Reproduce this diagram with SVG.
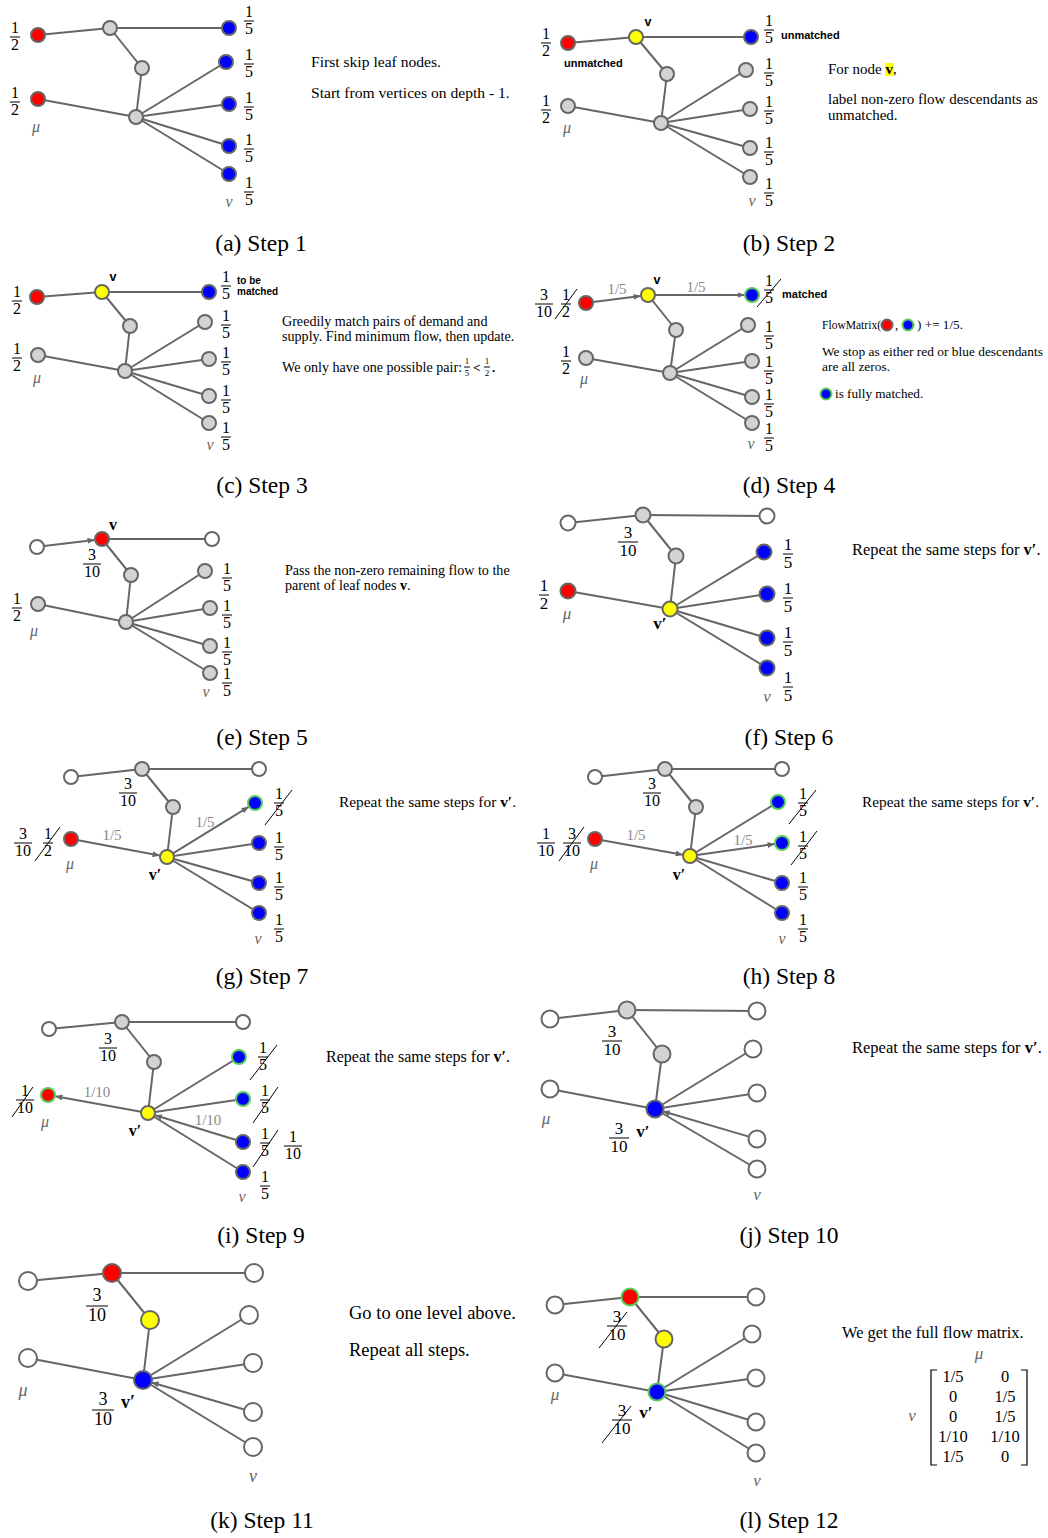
<svg xmlns="http://www.w3.org/2000/svg" width="1048" height="1538" viewBox="0 0 1048 1538">
<defs>
<marker id="ah" markerWidth="7" markerHeight="6" refX="7" refY="3" orient="auto" markerUnits="userSpaceOnUse"><path d="M0,0 L7,3 L0,6 z" fill="#666"/></marker>
</defs>
<style>
.e{stroke:#666;stroke-width:2;fill:none}
.ea{stroke:#666;stroke-width:2;fill:none;marker-end:url(#ah)}
circle{stroke:#666;stroke-width:2}
.g{fill:#d3d3d3}.r{fill:#f00}.b{fill:#00f}.y{fill:#ff0}.w{fill:#fff}
circle.gs{stroke:#5c5}
.fr text{font-family:"Liberation Serif",serif;font-size:16px;text-anchor:middle;fill:#000}
.fr2 text{font-size:17px}
.fr3 text{font-size:18px}
.frs text{font-size:9px}
.fr line{stroke:#000;stroke-width:1}
.sl{stroke:#000;stroke-width:1}
.t{font-family:"Liberation Serif",serif;font-size:15px;fill:#000}
.cap{font-family:"Liberation Serif",serif;font-size:23.5px;text-anchor:middle;fill:#000}
.lb{font-family:"Liberation Sans",sans-serif;font-weight:bold;font-size:11px;fill:#000}
.m{font-family:"Liberation Serif",serif;font-style:italic;font-size:16px;fill:#666;text-anchor:middle}
.fl{font-family:"Liberation Serif",serif;font-size:15px;fill:#888;text-anchor:middle}
.vp{font-family:"Liberation Serif",serif;font-weight:bold;font-size:16px;text-anchor:middle;fill:#000}
.mx{font-family:"Liberation Serif",serif;font-size:16.5px;text-anchor:middle;fill:#000}
</style>
<rect width="1048" height="1538" fill="#fff"/>

<!-- (a) -->
<g id="panel-a">
<g id="a-connectors">
<line class="e" x1="38" y1="35" x2="110" y2="28"/>
<line class="e" x1="110" y1="28" x2="229" y2="28"/>
<line class="e" x1="110" y1="28" x2="142" y2="68"/>
<line class="e" x1="142" y1="68" x2="136" y2="117"/>
<line class="e" x1="38" y1="99" x2="136" y2="117"/>
<line class="e" x1="136" y1="117" x2="226" y2="62"/>
<line class="e" x1="136" y1="117" x2="229" y2="104"/>
<line class="e" x1="136" y1="117" x2="229" y2="146"/>
<line class="e" x1="136" y1="117" x2="229" y2="174"/>
</g>
<g id="a-n1"><circle class="r" cx="38" cy="35" r="7"/></g>
<g id="a-n2"><circle class="g" cx="110" cy="28" r="7"/></g>
<g id="a-n3"><circle class="b" cx="229" cy="28" r="7"/></g>
<g id="a-n4"><circle class="g" cx="142" cy="68" r="7"/></g>
<g id="a-n5"><circle class="r" cx="38" cy="99" r="7"/></g>
<g id="a-n6"><circle class="g" cx="136" cy="117" r="7"/></g>
<g id="a-n7"><circle class="b" cx="226" cy="62" r="7"/></g>
<g id="a-n8"><circle class="b" cx="229" cy="104" r="7"/></g>
<g id="a-n9"><circle class="b" cx="229" cy="146" r="7"/></g>
<g id="a-n10"><circle class="b" cx="229" cy="174" r="7"/></g>
<g class="fr" transform="translate(15,37)"><text y="-4">1</text><line x1="-5" x2="5"/><text y="13">2</text></g>
<g class="fr" transform="translate(15,102)"><text y="-4">1</text><line x1="-5" x2="5"/><text y="13">2</text></g>
<g class="fr" transform="translate(249,21)"><text y="-4">1</text><line x1="-5" x2="5"/><text y="13">5</text></g>
<g class="fr" transform="translate(249,64)"><text y="-4">1</text><line x1="-5" x2="5"/><text y="13">5</text></g>
<g class="fr" transform="translate(249,107)"><text y="-4">1</text><line x1="-5" x2="5"/><text y="13">5</text></g>
<g class="fr" transform="translate(249,149)"><text y="-4">1</text><line x1="-5" x2="5"/><text y="13">5</text></g>
<g class="fr" transform="translate(249,192)"><text y="-4">1</text><line x1="-5" x2="5"/><text y="13">5</text></g>
<text class="m" x="36" y="132">μ</text>
<text class="m" x="229" y="207">v</text>
<text class="t" x="311" y="67" style="font-size:15.6px">First skip leaf nodes.</text>
<text class="t" x="311" y="98" style="font-size:15.6px">Start from vertices on depth - 1.</text>
<text class="cap" x="261" y="251">(a) Step 1</text>
</g>

<!-- (b) -->
<g id="panel-b">
<g id="b-connectors">
<line class="e" x1="568" y1="43" x2="636" y2="37"/>
<line class="e" x1="636" y1="37" x2="751" y2="37"/>
<line class="e" x1="636" y1="37" x2="667" y2="74"/>
<line class="e" x1="667" y1="74" x2="661" y2="123"/>
<line class="e" x1="568" y1="106" x2="661" y2="123"/>
<line class="e" x1="661" y1="123" x2="746" y2="70"/>
<line class="e" x1="661" y1="123" x2="750" y2="109"/>
<line class="e" x1="661" y1="123" x2="750" y2="148"/>
<line class="e" x1="661" y1="123" x2="750" y2="177"/>
</g>
<g id="b-n1"><circle class="r" cx="568" cy="43" r="7"/></g>
<g id="b-n2"><circle class="y" cx="636" cy="37" r="7"/></g>
<g id="b-n3"><circle class="b" cx="751" cy="37" r="7"/></g>
<g id="b-n4"><circle class="g" cx="667" cy="74" r="7"/></g>
<g id="b-n5"><circle class="g" cx="568" cy="106" r="7"/></g>
<g id="b-n6"><circle class="g" cx="661" cy="123" r="7"/></g>
<g id="b-n7"><circle class="g" cx="746" cy="70" r="7"/></g>
<g id="b-n8"><circle class="g" cx="750" cy="109" r="7"/></g>
<g id="b-n9"><circle class="g" cx="750" cy="148" r="7"/></g>
<g id="b-n10"><circle class="g" cx="750" cy="177" r="7"/></g>
<g class="fr" transform="translate(546,43)"><text y="-4">1</text><line x1="-5" x2="5"/><text y="13">2</text></g>
<g class="fr" transform="translate(546,110)"><text y="-4">1</text><line x1="-5" x2="5"/><text y="13">2</text></g>
<g class="fr" transform="translate(769,30)"><text y="-4">1</text><line x1="-5" x2="5"/><text y="13">5</text></g>
<g class="fr" transform="translate(769,73)"><text y="-4">1</text><line x1="-5" x2="5"/><text y="13">5</text></g>
<g class="fr" transform="translate(769,111)"><text y="-4">1</text><line x1="-5" x2="5"/><text y="13">5</text></g>
<g class="fr" transform="translate(769,152)"><text y="-4">1</text><line x1="-5" x2="5"/><text y="13">5</text></g>
<g class="fr" transform="translate(769,193)"><text y="-4">1</text><line x1="-5" x2="5"/><text y="13">5</text></g>
<text class="lb" x="648" y="26" text-anchor="middle" style="font-size:12.5px">v</text>
<text class="lb" x="781" y="39">unmatched</text>
<text class="lb" x="564" y="67">unmatched</text>
<text class="m" x="567" y="133">μ</text>
<text class="m" x="752" y="206">v</text>
<rect x="885" y="63" width="9" height="13" fill="#ff0"/>
<text class="t" x="828" y="74">For node <tspan font-weight="bold">v</tspan>,</text>
<text class="t" x="828" y="104">label non-zero flow descendants as</text>
<text class="t" x="828" y="120">unmatched.</text>
<text class="cap" x="789" y="251">(b) Step 2</text>
</g>

<!-- (c) -->
<g id="panel-c">
<g id="c-connectors">
<line class="e" x1="37" y1="297" x2="102" y2="292"/>
<line class="e" x1="102" y1="292" x2="209" y2="292"/>
<line class="e" x1="102" y1="292" x2="130" y2="326"/>
<line class="e" x1="130" y1="326" x2="125" y2="371"/>
<line class="e" x1="38" y1="355" x2="125" y2="371"/>
<line class="e" x1="125" y1="371" x2="205" y2="322"/>
<line class="e" x1="125" y1="371" x2="209" y2="359"/>
<line class="e" x1="125" y1="371" x2="209" y2="396"/>
<line class="e" x1="125" y1="371" x2="209" y2="423"/>
</g>
<g id="c-n1"><circle class="r" cx="37" cy="297" r="7"/></g>
<g id="c-n2"><circle class="y" cx="102" cy="292" r="7"/></g>
<g id="c-n3"><circle class="b" cx="209" cy="292" r="7"/></g>
<g id="c-n4"><circle class="g" cx="130" cy="326" r="7"/></g>
<g id="c-n5"><circle class="g" cx="38" cy="355" r="7"/></g>
<g id="c-n6"><circle class="g" cx="125" cy="371" r="7"/></g>
<g id="c-n7"><circle class="g" cx="205" cy="322" r="7"/></g>
<g id="c-n8"><circle class="g" cx="209" cy="359" r="7"/></g>
<g id="c-n9"><circle class="g" cx="209" cy="396" r="7"/></g>
<g id="c-n10"><circle class="g" cx="209" cy="423" r="7"/></g>
<g class="fr" transform="translate(17,301)"><text y="-4">1</text><line x1="-5" x2="5"/><text y="13">2</text></g>
<g class="fr" transform="translate(17,358)"><text y="-4">1</text><line x1="-5" x2="5"/><text y="13">2</text></g>
<g class="fr" transform="translate(226,286)"><text y="-4">1</text><line x1="-5" x2="5"/><text y="13">5</text></g>
<g class="fr" transform="translate(226,325)"><text y="-4">1</text><line x1="-5" x2="5"/><text y="13">5</text></g>
<g class="fr" transform="translate(226,362)"><text y="-4">1</text><line x1="-5" x2="5"/><text y="13">5</text></g>
<g class="fr" transform="translate(226,400)"><text y="-4">1</text><line x1="-5" x2="5"/><text y="13">5</text></g>
<g class="fr" transform="translate(226,437)"><text y="-4">1</text><line x1="-5" x2="5"/><text y="13">5</text></g>
<text class="lb" x="113" y="281" text-anchor="middle" style="font-size:12.5px">v</text>
<text class="lb" x="237" y="284" style="font-size:10px">to be</text>
<text class="lb" x="237" y="295" style="font-size:10px">matched</text>
<text class="m" x="37" y="383">μ</text>
<text class="m" x="210" y="450">v</text>
<text class="t" x="282" y="326" style="font-size:14.1px">Greedily match pairs of demand and</text>
<text class="t" x="282" y="341" style="font-size:14.1px">supply. Find minimum flow, then update.</text>
<text class="t" x="282" y="372" style="font-size:14.1px">We only have one possible pair:</text>
<g class="fr frs" transform="translate(467,367)"><text y="-3">1</text><line x1="-3" x2="3"/><text y="9">5</text></g>
<text class="t" x="473" y="372" style="font-size:13px;font-weight:bold">&lt;</text>
<g class="fr frs" transform="translate(487,367)"><text y="-3">1</text><line x1="-3" x2="3"/><text y="9">2</text></g>
<text class="t" x="492" y="372" style="font-size:13px;font-weight:bold">.</text>
<text class="cap" x="262" y="493">(c) Step 3</text>
</g>

<!-- (d) -->
<g id="panel-d">
<g id="d-connectors">
<line class="ea" x1="593" y1="302" x2="640.6" y2="296"/>
<line class="ea" x1="655" y1="295" x2="744.5" y2="295"/>
<line class="e" x1="648" y1="295" x2="676" y2="330"/>
<line class="e" x1="676" y1="330" x2="670" y2="373"/>
<line class="e" x1="586" y1="358" x2="670" y2="373"/>
<line class="e" x1="670" y1="373" x2="748" y2="325"/>
<line class="e" x1="670" y1="373" x2="752" y2="361"/>
<line class="e" x1="670" y1="373" x2="752" y2="397"/>
<line class="e" x1="670" y1="373" x2="752" y2="423"/>
</g>
<g id="d-n1"><circle class="r" cx="586" cy="303" r="7"/></g>
<g id="d-n2"><circle class="y" cx="648" cy="295" r="7"/></g>
<g id="d-n3"><circle class="b gs" cx="752" cy="295" r="7"/></g>
<g id="d-n4"><circle class="g" cx="676" cy="330" r="7"/></g>
<g id="d-n5"><circle class="g" cx="586" cy="358" r="7"/></g>
<g id="d-n6"><circle class="g" cx="670" cy="373" r="7"/></g>
<g id="d-n7"><circle class="g" cx="748" cy="325" r="7"/></g>
<g id="d-n8"><circle class="g" cx="752" cy="361" r="7"/></g>
<g id="d-n9"><circle class="g" cx="752" cy="397" r="7"/></g>
<g id="d-n10"><circle class="g" cx="752" cy="423" r="7"/></g>
<text class="fl" x="617" y="294">1/5</text>
<text class="fl" x="696" y="292">1/5</text>
<text class="lb" x="657" y="284" text-anchor="middle" style="font-size:12.5px">v</text>
<text class="lb" x="782" y="298">matched</text>
<g class="fr" transform="translate(544,304)"><text y="-4">3</text><line x1="-9" x2="9"/><text y="13">10</text></g>
<g class="fr" transform="translate(566,304)"><text y="-4">1</text><line x1="-5" x2="5"/><text y="13">2</text></g>
<line class="sl" x1="555" y1="319" x2="577" y2="289"/>
<g class="fr" transform="translate(566,361)"><text y="-4">1</text><line x1="-5" x2="5"/><text y="13">2</text></g>
<g class="fr" transform="translate(769,290)"><text y="-4">1</text><line x1="-5" x2="5"/><text y="13">5</text></g>
<line class="sl" x1="757" y1="307" x2="781" y2="279"/>
<g class="fr" transform="translate(769,336)"><text y="-4">1</text><line x1="-5" x2="5"/><text y="13">5</text></g>
<g class="fr" transform="translate(769,371)"><text y="-4">1</text><line x1="-5" x2="5"/><text y="13">5</text></g>
<g class="fr" transform="translate(769,404)"><text y="-4">1</text><line x1="-5" x2="5"/><text y="13">5</text></g>
<g class="fr" transform="translate(769,438)"><text y="-4">1</text><line x1="-5" x2="5"/><text y="13">5</text></g>
<text class="m" x="584" y="384">μ</text>
<text class="m" x="751" y="449">v</text>
<text class="t" x="822" y="329" style="font-size:13.2px" textLength="59" lengthAdjust="spacingAndGlyphs">FlowMatrix(</text>
<circle class="r" cx="887" cy="325" r="5.5"/>
<text class="t" x="895" y="329" style="font-size:13.2px">,</text>
<circle class="b gs" cx="908" cy="325" r="5.5"/>
<text class="t" x="917" y="329" style="font-size:13.2px">) += 1/5.</text>
<text class="t" x="822" y="356" style="font-size:13.4px">We stop as either red or blue descendants</text>
<text class="t" x="822" y="371" style="font-size:13.4px">are all zeros.</text>
<circle class="b gs" cx="826" cy="394" r="5.5"/>
<text class="t" x="835" y="398" style="font-size:13.2px">is fully matched.</text>
<text class="cap" x="789" y="493">(d) Step 4</text>
</g>

<!-- (e) -->
<g id="panel-e">
<g id="e-connectors">
<line class="ea" x1="44" y1="546" x2="94.5" y2="540"/>
<line class="e" x1="102" y1="539" x2="212" y2="539"/>
<line class="e" x1="102" y1="539" x2="131" y2="575"/>
<line class="e" x1="131" y1="575" x2="126" y2="622"/>
<line class="e" x1="38" y1="604" x2="126" y2="622"/>
<line class="e" x1="126" y1="622" x2="205" y2="571"/>
<line class="e" x1="126" y1="622" x2="210" y2="608"/>
<line class="e" x1="126" y1="622" x2="210" y2="646"/>
<line class="e" x1="126" y1="622" x2="210" y2="673"/>
</g>
<g id="e-n1"><circle class="w" cx="37" cy="547" r="7"/></g>
<g id="e-n2"><circle class="r" cx="102" cy="539" r="7"/></g>
<g id="e-n3"><circle class="w" cx="212" cy="539" r="7"/></g>
<g id="e-n4"><circle class="g" cx="131" cy="575" r="7"/></g>
<g id="e-n5"><circle class="g" cx="38" cy="604" r="7"/></g>
<g id="e-n6"><circle class="g" cx="126" cy="622" r="7"/></g>
<g id="e-n7"><circle class="g" cx="205" cy="571" r="7"/></g>
<g id="e-n8"><circle class="g" cx="210" cy="608" r="7"/></g>
<g id="e-n9"><circle class="g" cx="210" cy="646" r="7"/></g>
<g id="e-n10"><circle class="g" cx="210" cy="673" r="7"/></g>
<text class="vp" x="113" y="530">v</text>
<g class="fr" transform="translate(92,564)"><text y="-4">3</text><line x1="-9" x2="9"/><text y="13">10</text></g>
<g class="fr" transform="translate(17,608)"><text y="-4">1</text><line x1="-5" x2="5"/><text y="13">2</text></g>
<g class="fr" transform="translate(227,578)"><text y="-4">1</text><line x1="-5" x2="5"/><text y="13">5</text></g>
<g class="fr" transform="translate(227,615)"><text y="-4">1</text><line x1="-5" x2="5"/><text y="13">5</text></g>
<g class="fr" transform="translate(227,652)"><text y="-4">1</text><line x1="-5" x2="5"/><text y="13">5</text></g>
<g class="fr" transform="translate(227,683)"><text y="-4">1</text><line x1="-5" x2="5"/><text y="13">5</text></g>
<text class="m" x="34" y="636">μ</text>
<text class="m" x="206" y="697">v</text>
<text class="t" x="285" y="575" style="font-size:14.1px">Pass the non-zero remaining flow to the</text>
<text class="t" x="285" y="590" style="font-size:14.1px">parent of leaf nodes <tspan font-weight="bold">v</tspan>.</text>
<text class="cap" x="262" y="745">(e) Step 5</text>
</g>

<!-- (f) -->
<g id="panel-f">
<g id="f-connectors">
<line class="e" x1="568" y1="523" x2="643" y2="515"/>
<line class="e" x1="643" y1="515" x2="767" y2="516"/>
<line class="e" x1="643" y1="515" x2="676" y2="556"/>
<line class="e" x1="676" y1="556" x2="670" y2="609"/>
<line class="e" x1="568" y1="591" x2="670" y2="609"/>
<line class="e" x1="670" y1="609" x2="764" y2="552"/>
<line class="e" x1="670" y1="609" x2="767" y2="594"/>
<line class="e" x1="670" y1="609" x2="767" y2="638"/>
<line class="e" x1="670" y1="609" x2="767" y2="668"/>
</g>
<g id="f-n1"><circle class="w" cx="568" cy="523" r="7.5"/></g>
<g id="f-n2"><circle class="g" cx="643" cy="515" r="7.5"/></g>
<g id="f-n3"><circle class="w" cx="767" cy="516" r="7.5"/></g>
<g id="f-n4"><circle class="g" cx="676" cy="556" r="7.5"/></g>
<g id="f-n5"><circle class="r" cx="568" cy="591" r="7.5"/></g>
<g id="f-n6"><circle class="y" cx="670" cy="609" r="7.5"/></g>
<g id="f-n7"><circle class="b" cx="764" cy="552" r="7.5"/></g>
<g id="f-n8"><circle class="b" cx="767" cy="594" r="7.5"/></g>
<g id="f-n9"><circle class="b" cx="767" cy="638" r="7.5"/></g>
<g id="f-n10"><circle class="b" cx="767" cy="668" r="7.5"/></g>
<g class="fr fr2" transform="translate(628,542)"><text y="-4">3</text><line x1="-10" x2="10"/><text y="14">10</text></g>
<g class="fr fr2" transform="translate(544,595)"><text y="-4">1</text><line x1="-5" x2="5"/><text y="14">2</text></g>
<g class="fr fr2" transform="translate(788,554)"><text y="-4">1</text><line x1="-5" x2="5"/><text y="14">5</text></g>
<g class="fr fr2" transform="translate(788,598)"><text y="-4">1</text><line x1="-5" x2="5"/><text y="14">5</text></g>
<g class="fr fr2" transform="translate(788,642)"><text y="-4">1</text><line x1="-5" x2="5"/><text y="14">5</text></g>
<g class="fr fr2" transform="translate(788,687)"><text y="-4">1</text><line x1="-5" x2="5"/><text y="14">5</text></g>
<text class="vp" x="660" y="629" style="font-size:17px">v′</text>
<text class="m" x="567" y="619" style="font-size:17px">μ</text>
<text class="m" x="767" y="702" style="font-size:17px">v</text>
<text class="t" x="852" y="555" style="font-size:16.4px">Repeat the same steps for <tspan font-weight="bold">v′</tspan>.</text>
<text class="cap" x="789" y="745">(f) Step 6</text>
</g>

<!-- (g) -->
<g id="panel-g">
<g id="g-connectors">
<line class="e" x1="71" y1="777" x2="142" y2="769"/>
<line class="e" x1="142" y1="769" x2="259" y2="769"/>
<line class="e" x1="142" y1="769" x2="173" y2="807"/>
<line class="e" x1="173" y1="807" x2="167" y2="857"/>
<line class="ea" x1="78" y1="840.3" x2="159.6" y2="855.6"/>
<line class="ea" x1="173" y1="853.3" x2="248.6" y2="806.9"/>
<line class="e" x1="167" y1="857" x2="259" y2="843"/>
<line class="e" x1="167" y1="857" x2="259" y2="883"/>
<line class="e" x1="167" y1="857" x2="259" y2="913"/>
</g>
<g id="g-n1"><circle class="w" cx="71" cy="777" r="7"/></g>
<g id="g-n2"><circle class="g" cx="142" cy="769" r="7"/></g>
<g id="g-n3"><circle class="w" cx="259" cy="769" r="7"/></g>
<g id="g-n4"><circle class="g" cx="173" cy="807" r="7"/></g>
<g id="g-n5"><circle class="r" cx="71" cy="839" r="7"/></g>
<g id="g-n6"><circle class="y" cx="167" cy="857" r="7"/></g>
<g id="g-n7"><circle class="b gs" cx="255" cy="803" r="7"/></g>
<g id="g-n8"><circle class="b" cx="259" cy="843" r="7"/></g>
<g id="g-n9"><circle class="b" cx="259" cy="883" r="7"/></g>
<g id="g-n10"><circle class="b" cx="259" cy="913" r="7"/></g>
<text class="fl" x="112" y="840">1/5</text>
<text class="fl" x="205" y="827">1/5</text>
<g class="fr" transform="translate(128,793)"><text y="-4">3</text><line x1="-9" x2="9"/><text y="13">10</text></g>
<g class="fr" transform="translate(23,843)"><text y="-4">3</text><line x1="-9" x2="9"/><text y="13">10</text></g>
<g class="fr" transform="translate(48,843)"><text y="-4">1</text><line x1="-5" x2="5"/><text y="13">2</text></g>
<line class="sl" x1="35" y1="861" x2="60" y2="827"/>
<g class="fr" transform="translate(279,803)"><text y="-4">1</text><line x1="-5" x2="5"/><text y="13">5</text></g>
<line class="sl" x1="265" y1="825" x2="292" y2="790"/>
<g class="fr" transform="translate(279,847)"><text y="-4">1</text><line x1="-5" x2="5"/><text y="13">5</text></g>
<g class="fr" transform="translate(279,887)"><text y="-4">1</text><line x1="-5" x2="5"/><text y="13">5</text></g>
<g class="fr" transform="translate(279,929)"><text y="-4">1</text><line x1="-5" x2="5"/><text y="13">5</text></g>
<text class="vp" x="155" y="880">v′</text>
<text class="m" x="70" y="869">μ</text>
<text class="m" x="258" y="944">v</text>
<text class="t" x="339" y="807" style="font-size:15.4px">Repeat the same steps for <tspan font-weight="bold">v′</tspan>.</text>
<text class="cap" x="262" y="984">(g) Step 7</text>
</g>

<!-- (h) -->
<g id="panel-h">
<g id="h-connectors">
<line class="e" x1="595" y1="777" x2="665" y2="769"/>
<line class="e" x1="665" y1="769" x2="782" y2="769"/>
<line class="e" x1="665" y1="769" x2="696" y2="807"/>
<line class="e" x1="696" y1="807" x2="690" y2="856"/>
<line class="ea" x1="602" y1="840.2" x2="682.6" y2="854.7"/>
<line class="e" x1="690" y1="856" x2="778" y2="802"/>
<line class="ea" x1="697" y1="855" x2="774.6" y2="844"/>
<line class="e" x1="690" y1="856" x2="782" y2="883"/>
<line class="e" x1="690" y1="856" x2="782" y2="913"/>
</g>
<g id="h-n1"><circle class="w" cx="595" cy="777" r="7"/></g>
<g id="h-n2"><circle class="g" cx="665" cy="769" r="7"/></g>
<g id="h-n3"><circle class="w" cx="782" cy="769" r="7"/></g>
<g id="h-n4"><circle class="g" cx="696" cy="807" r="7"/></g>
<g id="h-n5"><circle class="r" cx="595" cy="839" r="7"/></g>
<g id="h-n6"><circle class="y" cx="690" cy="856" r="7"/></g>
<g id="h-n7"><circle class="b gs" cx="778" cy="802" r="7"/></g>
<g id="h-n8"><circle class="b gs" cx="782" cy="843" r="7"/></g>
<g id="h-n9"><circle class="b" cx="782" cy="883" r="7"/></g>
<g id="h-n10"><circle class="b" cx="782" cy="913" r="7"/></g>
<text class="fl" x="636" y="840">1/5</text>
<text class="fl" x="743" y="845">1/5</text>
<g class="fr" transform="translate(652,793)"><text y="-4">3</text><line x1="-9" x2="9"/><text y="13">10</text></g>
<g class="fr" transform="translate(546,843)"><text y="-4">1</text><line x1="-9" x2="9"/><text y="13">10</text></g>
<g class="fr" transform="translate(572,843)"><text y="-4">3</text><line x1="-9" x2="9"/><text y="13">10</text></g>
<line class="sl" x1="559" y1="861" x2="584" y2="827"/>
<g class="fr" transform="translate(803,803)"><text y="-4">1</text><line x1="-5" x2="5"/><text y="13">5</text></g>
<line class="sl" x1="789" y1="824" x2="816" y2="790"/>
<g class="fr" transform="translate(803,846)"><text y="-4">1</text><line x1="-5" x2="5"/><text y="13">5</text></g>
<line class="sl" x1="791" y1="865" x2="817" y2="831"/>
<g class="fr" transform="translate(803,887)"><text y="-4">1</text><line x1="-5" x2="5"/><text y="13">5</text></g>
<g class="fr" transform="translate(803,929)"><text y="-4">1</text><line x1="-5" x2="5"/><text y="13">5</text></g>
<text class="vp" x="679" y="880">v′</text>
<text class="m" x="594" y="869">μ</text>
<text class="m" x="782" y="944">v</text>
<text class="t" x="862" y="807" style="font-size:15.4px">Repeat the same steps for <tspan font-weight="bold">v′</tspan>.</text>
<text class="cap" x="789" y="984">(h) Step 8</text>
</g>

<!-- (i) -->
<g id="panel-i">
<g id="i-connectors">
<line class="e" x1="49" y1="1029" x2="122" y2="1022"/>
<line class="e" x1="122" y1="1022" x2="243" y2="1022"/>
<line class="e" x1="122" y1="1022" x2="154" y2="1062"/>
<line class="e" x1="154" y1="1062" x2="148" y2="1113"/>
<line class="ea" x1="141" y1="1111.8" x2="55.4" y2="1096.3"/>
<line class="e" x1="148" y1="1113" x2="239" y2="1057"/>
<line class="e" x1="148" y1="1113" x2="243" y2="1099"/>
<line class="ea" x1="236.3" y1="1140" x2="155.2" y2="1115.2"/>
<line class="e" x1="148" y1="1113" x2="243" y2="1172"/>
</g>
<g id="i-n1"><circle class="w" cx="49" cy="1029" r="7"/></g>
<g id="i-n2"><circle class="g" cx="122" cy="1022" r="7"/></g>
<g id="i-n3"><circle class="w" cx="243" cy="1022" r="7"/></g>
<g id="i-n4"><circle class="g" cx="154" cy="1062" r="7"/></g>
<g id="i-n5"><circle class="r gs" cx="48" cy="1095" r="7"/></g>
<g id="i-n6"><circle class="y" cx="148" cy="1113" r="7"/></g>
<g id="i-n7"><circle class="b gs" cx="239" cy="1057" r="7"/></g>
<g id="i-n8"><circle class="b gs" cx="243" cy="1099" r="7"/></g>
<g id="i-n9"><circle class="b" cx="243" cy="1142" r="7"/></g>
<g id="i-n10"><circle class="b" cx="243" cy="1172" r="7"/></g>
<text class="fl" x="97" y="1097">1/10</text>
<text class="fl" x="208" y="1125">1/10</text>
<g class="fr" transform="translate(108,1048)"><text y="-4">3</text><line x1="-9" x2="9"/><text y="13">10</text></g>
<g class="fr" transform="translate(25,1100)"><text y="-4">1</text><line x1="-9" x2="9"/><text y="13">10</text></g>
<line class="sl" x1="12" y1="1117" x2="33" y2="1087"/>
<g class="fr" transform="translate(263,1057)"><text y="-4">1</text><line x1="-5" x2="5"/><text y="13">5</text></g>
<line class="sl" x1="250" y1="1080" x2="277" y2="1045"/>
<g class="fr" transform="translate(265,1100)"><text y="-4">1</text><line x1="-5" x2="5"/><text y="13">5</text></g>
<line class="sl" x1="253" y1="1123" x2="278" y2="1087"/>
<g class="fr" transform="translate(265,1143)"><text y="-4">1</text><line x1="-5" x2="5"/><text y="13">5</text></g>
<line class="sl" x1="253" y1="1167" x2="278" y2="1130"/>
<g class="fr" transform="translate(293,1146)"><text y="-4">1</text><line x1="-9" x2="9"/><text y="13">10</text></g>
<g class="fr" transform="translate(265,1186)"><text y="-4">1</text><line x1="-5" x2="5"/><text y="13">5</text></g>
<text class="vp" x="135" y="1136">v′</text>
<text class="m" x="45" y="1127">μ</text>
<text class="m" x="242" y="1202">v</text>
<text class="t" x="326" y="1062" style="font-size:16px">Repeat the same steps for <tspan font-weight="bold">v′</tspan>.</text>
<text class="cap" x="261" y="1243">(i) Step 9</text>
</g>

<!-- (j) -->
<g id="panel-j">
<g id="j-connectors">
<line class="e" x1="550" y1="1019" x2="627" y2="1010"/>
<line class="e" x1="627" y1="1010" x2="757" y2="1011"/>
<line class="e" x1="627" y1="1010" x2="662" y2="1054"/>
<line class="e" x1="662" y1="1054" x2="655" y2="1109"/>
<line class="e" x1="550" y1="1089" x2="655" y2="1109"/>
<line class="e" x1="655" y1="1109" x2="753" y2="1049"/>
<line class="e" x1="655" y1="1109" x2="757" y2="1093"/>
<line class="ea" x1="748.8" y1="1136.6" x2="662.7" y2="1111.3"/>
<line class="e" x1="655" y1="1109" x2="757" y2="1169"/>
</g>
<g id="j-n1"><circle class="w" cx="550" cy="1019" r="8.5"/></g>
<g id="j-n2"><circle class="g" cx="627" cy="1010" r="8.5"/></g>
<g id="j-n3"><circle class="w" cx="757" cy="1011" r="8.5"/></g>
<g id="j-n4"><circle class="g" cx="662" cy="1054" r="8.5"/></g>
<g id="j-n5"><circle class="w" cx="550" cy="1089" r="8.5"/></g>
<g id="j-n6"><circle class="b" cx="655" cy="1109" r="8.5"/></g>
<g id="j-n7"><circle class="w" cx="753" cy="1049" r="8.5"/></g>
<g id="j-n8"><circle class="w" cx="757" cy="1093" r="8.5"/></g>
<g id="j-n9"><circle class="w" cx="757" cy="1139" r="8.5"/></g>
<g id="j-n10"><circle class="w" cx="757" cy="1169" r="8.5"/></g>
<g class="fr fr2" transform="translate(612,1041)"><text y="-4">3</text><line x1="-10" x2="10"/><text y="14">10</text></g>
<g class="fr fr2" transform="translate(619,1138)"><text y="-4">3</text><line x1="-10" x2="10"/><text y="14">10</text></g>
<text class="vp" x="643" y="1137" style="font-size:17px">v′</text>
<text class="m" x="546" y="1124" style="font-size:17px">μ</text>
<text class="m" x="757" y="1200" style="font-size:17px">v</text>
<text class="t" x="852" y="1053" style="font-size:16.5px">Repeat the same steps for <tspan font-weight="bold">v′</tspan>.</text>
<text class="cap" x="789" y="1243">(j) Step 10</text>
</g>

<!-- (k) -->
<g id="panel-k">
<g id="k-connectors">
<line class="e" x1="28" y1="1281" x2="112" y2="1273"/>
<line class="e" x1="112" y1="1273" x2="254" y2="1273"/>
<line class="e" x1="112" y1="1273" x2="150" y2="1320"/>
<line class="e" x1="150" y1="1320" x2="143" y2="1380"/>
<line class="e" x1="28" y1="1358" x2="143" y2="1380"/>
<line class="e" x1="143" y1="1380" x2="249" y2="1315"/>
<line class="e" x1="143" y1="1380" x2="253" y2="1363"/>
<line class="ea" x1="244.4" y1="1409.5" x2="151.6" y2="1382.5"/>
<line class="e" x1="143" y1="1380" x2="253" y2="1447"/>
</g>
<g id="k-n1"><circle class="w" cx="28" cy="1281" r="9"/></g>
<g id="k-n2"><circle class="r" cx="112" cy="1273" r="9"/></g>
<g id="k-n3"><circle class="w" cx="254" cy="1273" r="9"/></g>
<g id="k-n4"><circle class="y" cx="150" cy="1320" r="9"/></g>
<g id="k-n5"><circle class="w" cx="28" cy="1358" r="9"/></g>
<g id="k-n6"><circle class="b" cx="143" cy="1380" r="9"/></g>
<g id="k-n7"><circle class="w" cx="249" cy="1315" r="9"/></g>
<g id="k-n8"><circle class="w" cx="253" cy="1363" r="9"/></g>
<g id="k-n9"><circle class="w" cx="253" cy="1412" r="9"/></g>
<g id="k-n10"><circle class="w" cx="253" cy="1447" r="9"/></g>
<g class="fr fr3" transform="translate(97,1306)"><text y="-5">3</text><line x1="-11" x2="11"/><text y="15">10</text></g>
<g class="fr fr3" transform="translate(103,1410)"><text y="-5">3</text><line x1="-11" x2="11"/><text y="15">10</text></g>
<text class="vp" x="128" y="1408" style="font-size:18px">v′</text>
<text class="m" x="23" y="1396" style="font-size:18px">μ</text>
<text class="m" x="253" y="1482" style="font-size:18px">v</text>
<text class="t" x="349" y="1319" style="font-size:18.5px">Go to one level above.</text>
<text class="t" x="349" y="1356" style="font-size:18.5px">Repeat all steps.</text>
<text class="cap" x="262" y="1528">(k) Step 11</text>
</g>

<!-- (l) -->
<g id="panel-l">
<g id="l-connectors">
<line class="e" x1="555" y1="1305" x2="630" y2="1297"/>
<line class="e" x1="630" y1="1297" x2="756" y2="1297"/>
<line class="e" x1="630" y1="1297" x2="664" y2="1339"/>
<line class="e" x1="664" y1="1339" x2="657" y2="1392"/>
<line class="e" x1="555" y1="1373" x2="657" y2="1392"/>
<line class="e" x1="657" y1="1392" x2="752" y2="1334"/>
<line class="e" x1="657" y1="1392" x2="756" y2="1378"/>
<line class="e" x1="657" y1="1392" x2="756" y2="1422"/>
<line class="e" x1="657" y1="1392" x2="756" y2="1453"/>
</g>
<g id="l-n1"><circle class="w" cx="555" cy="1305" r="8.5"/></g>
<g id="l-n2"><circle class="r gs" cx="630" cy="1297" r="8.5"/></g>
<g id="l-n3"><circle class="w" cx="756" cy="1297" r="8.5"/></g>
<g id="l-n4"><circle class="y" cx="664" cy="1339" r="8.5"/></g>
<g id="l-n5"><circle class="w" cx="555" cy="1373" r="8.5"/></g>
<g id="l-n6"><circle class="b gs" cx="657" cy="1392" r="8.5"/></g>
<g id="l-n7"><circle class="w" cx="752" cy="1334" r="8.5"/></g>
<g id="l-n8"><circle class="w" cx="756" cy="1378" r="8.5"/></g>
<g id="l-n9"><circle class="w" cx="756" cy="1422" r="8.5"/></g>
<g id="l-n10"><circle class="w" cx="756" cy="1453" r="8.5"/></g>
<g class="fr fr2" transform="translate(617,1326)"><text y="-4">3</text><line x1="-10" x2="10"/><text y="14">10</text></g>
<line class="sl" x1="599" y1="1348" x2="627" y2="1312"/>
<g class="fr fr2" transform="translate(622,1420)"><text y="-4">3</text><line x1="-10" x2="10"/><text y="14">10</text></g>
<line class="sl" x1="602" y1="1443" x2="631" y2="1406"/>
<text class="vp" x="646" y="1418" style="font-size:17px">v′</text>
<text class="m" x="555" y="1400" style="font-size:17px">μ</text>
<text class="m" x="757" y="1486" style="font-size:17px">v</text>
<text class="t" x="842" y="1338" style="font-size:16.4px">We get the full flow matrix.</text>
<text class="m" x="979" y="1359" style="font-size:17px">μ</text>
<text class="m" x="912" y="1421" style="font-size:17px">v</text>
<path d="M937,1370 H931 V1465 H937" fill="none" stroke="#000" stroke-width="1.2"/>
<path d="M1021,1370 H1027 V1465 H1021" fill="none" stroke="#000" stroke-width="1.2"/>
<text class="mx" x="953" y="1382">1/5</text><text class="mx" x="1005" y="1382">0</text>
<text class="mx" x="953" y="1402">0</text><text class="mx" x="1005" y="1402">1/5</text>
<text class="mx" x="953" y="1422">0</text><text class="mx" x="1005" y="1422">1/5</text>
<text class="mx" x="953" y="1442">1/10</text><text class="mx" x="1005" y="1442">1/10</text>
<text class="mx" x="953" y="1462">1/5</text><text class="mx" x="1005" y="1462">0</text>
<text class="cap" x="789" y="1528">(l) Step 12</text>
</g>
</svg>
